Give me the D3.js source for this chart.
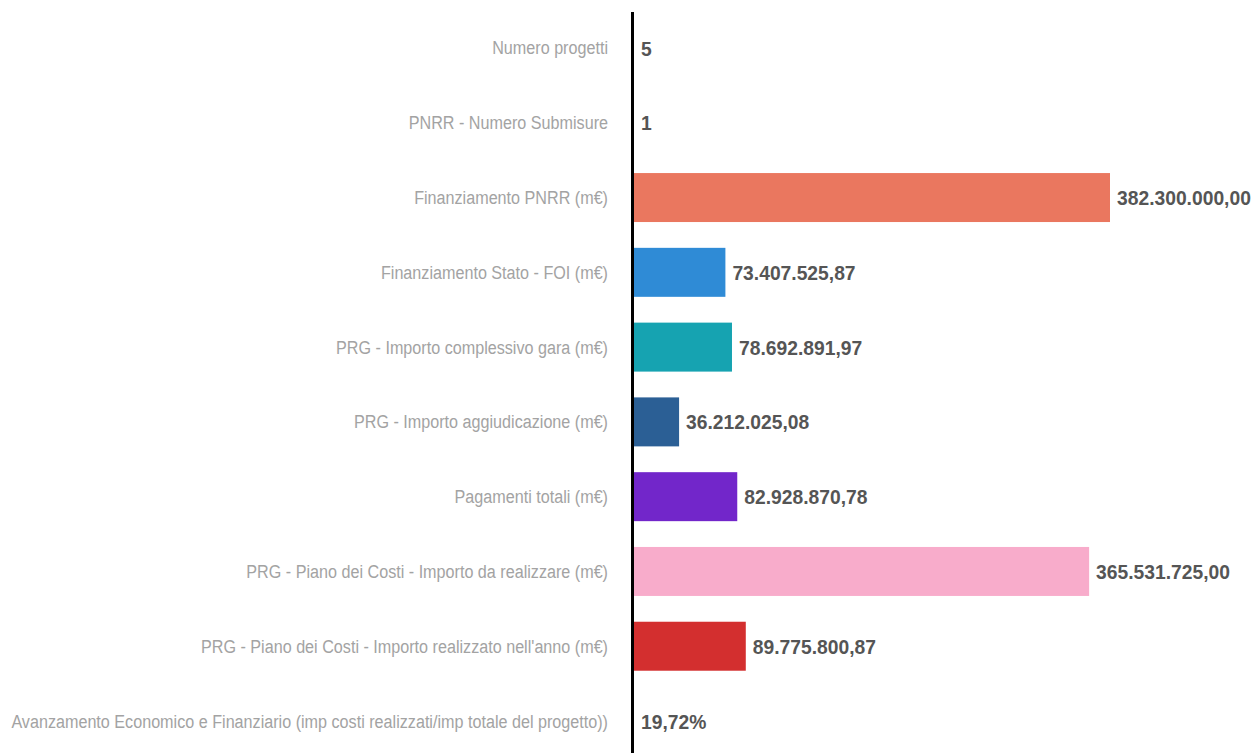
<!DOCTYPE html>
<html>
<head>
<meta charset="utf-8">
<script src="https://cdn.jsdelivr.net/npm/d3@7"></script>
<style>
  html, body { margin: 0; padding: 0; background: #ffffff; }
  svg { display: block; }
</style>
</head>
<body>
<svg id="chart" width="1254" height="753"></svg>
<script>
const categories = [
  "Numero progetti",
  "PNRR - Numero Submisure",
  "Finanziamento PNRR (m€)",
  "Finanziamento Stato - FOI (m€)",
  "PRG - Importo complessivo gara (m€)",
  "PRG - Importo aggiudicazione (m€)",
  "Pagamenti totali (m€)",
  "PRG - Piano dei Costi - Importo da realizzare (m€)",
  "PRG - Piano dei Costi - Importo realizzato nell'anno (m€)",
  "Avanzamento Economico e Finanziario (imp costi realizzati/imp totale del progetto))"
];
const values = [5, 1, 382300000.00, 73407525.87, 78692891.97, 36212025.08, 82928870.78, 365531725.00, 89775800.87, 0.1972];
const valueKinds = ["int", "int", "money", "money", "money", "money", "money", "money", "money", "pct"];
const colors = ["#cccccc", "#cccccc", "#EA775F", "#2F8BD6", "#16A3B1", "#2B5F95", "#7226CA", "#F8ACCB", "#D32F2F", "#cccccc"];

const it = d3.formatLocale({decimal: ",", thousands: ".", grouping: [3], currency: ["€", ""], percent: "%"});
const fmt = {
  int: it.format("d"),
  money: it.format(",.2f"),
  pct: it.format(".2%")
};

const svg = d3.select("#chart");
const x0 = 634;
const x = d3.scaleLinear().domain([0, 382300000]).range([x0, 1110]);
const step = 74.78;
const y = d3.scaleBand().domain(categories)
  .range([10.6, 10.6 + step * categories.length])
  .paddingInner(0.345).paddingOuter(0.1725);

const data = categories.map((c, i) => ({c, v: values[i], k: valueKinds[i], col: colors[i]}));

svg.append("g").selectAll("rect").data(data).join("rect")
  .attr("x", x(0))
  .attr("y", d => y(d.c))
  .attr("width", d => Math.max(0, x(d.v) - x(0)))
  .attr("height", y.bandwidth())
  .attr("fill", d => d.col);

const FONT = "'Liberation Sans', Arial, sans-serif";

// category labels (horizontally condensed)
const labels = svg.append("g").selectAll("text").data(data).join("text")
  .attr("text-anchor", "end")
  .attr("dy", "0.36em")
  .attr("font-family", FONT)
  .attr("font-size", 18)
  .attr("fill", "#a3a3a3")
  .text(d => d.c);
const longest = d3.max(labels.nodes(), n => n.getComputedTextLength());
const sL = 597 / longest;
labels.attr("transform", d => `translate(608,${y(d.c) + y.bandwidth() / 2}) scale(${sL},1)`);

// value labels (horizontally condensed)
const vals = svg.append("g").selectAll("text").data(data).join("text")
  .attr("dy", "0.36em")
  .attr("font-family", FONT)
  .attr("font-weight", "bold")
  .attr("font-size", 21)
  .attr("fill", "#555555")
  .text(d => fmt[d.k](d.v));
const refW = vals.filter((d, i) => i === 2).node().getComputedTextLength();
const sV = 134 / refW;
vals.attr("transform", d => `translate(${x(d.v) + 7},${y(d.c) + y.bandwidth() / 2}) scale(${sV},1)`);

// axis line
svg.append("line")
  .attr("x1", x(0) - 1.5).attr("x2", x(0) - 1.5)
  .attr("y1", 12).attr("y2", 753)
  .attr("stroke", "#000").attr("stroke-width", 3);
</script>
</body>
</html>
